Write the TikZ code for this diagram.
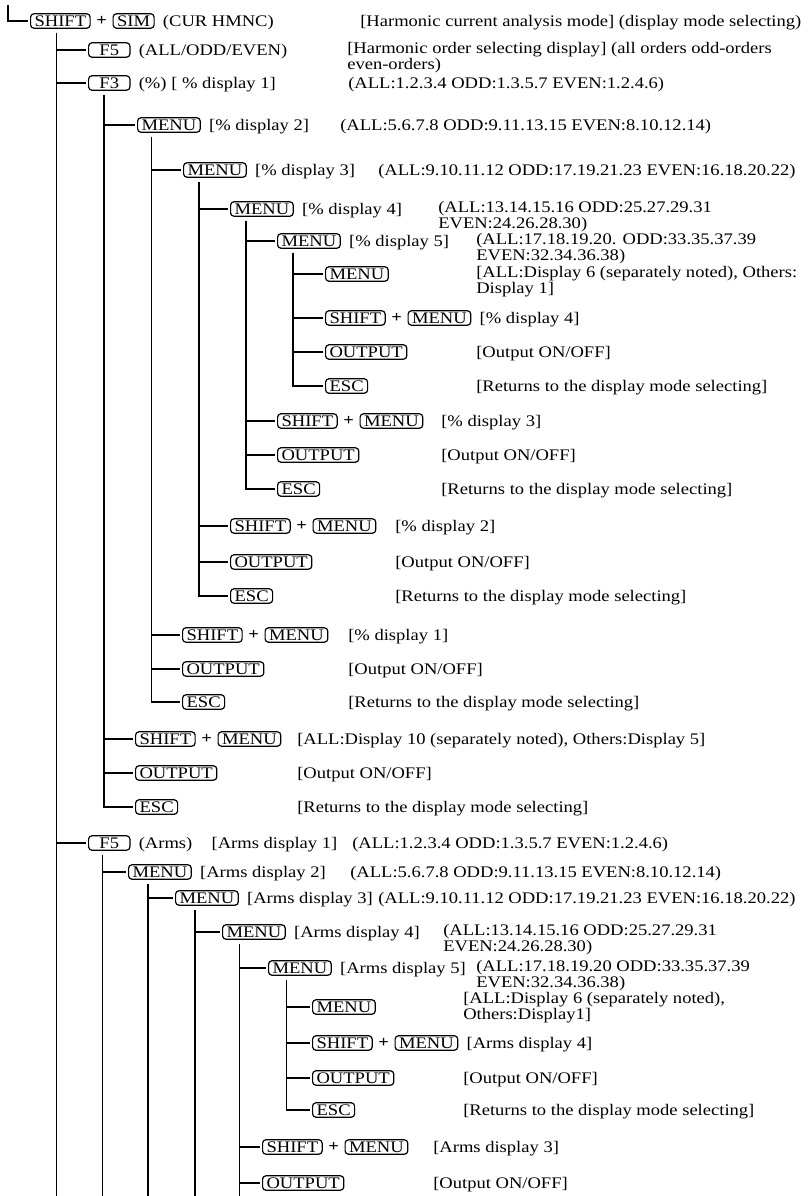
\documentclass[tikz,border=0pt]{standalone}
\usepackage{fontspec}
\setmainfont{Liberation Serif}[FakeStretch=1.15]
\usepackage{tikz}
\usetikzlibrary{positioning}

\begin{document}
\begin{tikzpicture}[x=0.75pt, y=-0.75pt, node distance=4pt,
  font=\fontsize{12.1pt}{10.5pt}\selectfont,
  key/.style={draw, rounded corners=2.5pt, line width=0.9pt, anchor=west, inner xsep=3pt, inner ysep=1.4pt, text height=8pt, text depth=0pt},
  fkey/.style={key, minimum width=31pt},
  plus/.style={inner sep=0pt, font=\fontsize{12.1pt}{10.5pt}\selectfont\bfseries},
  lbl/.style={inner sep=0pt},
  txt/.style={anchor=base west, inner sep=0pt, align=left},
  br/.style={line width=1.1pt},
  stub/.style={br, shorten >=1.5pt}]
  \useasboundingbox (0,0) rectangle (812,1196);
  \coordinate (bot) at (0,1196);
  \coordinate (t0) at (8,5);

  % root
  \node[key] (r1) at (30,21) {SHIFT};
  \node[plus, right=of r1] (r2) {+};
  \node[key, right=of r2] (r3) {SIM};
  \node[lbl, base right=6pt of r3] (r4) {(CUR HMNC)};
  \node[txt] (r5) at (360,26.5) {[Harmonic current analysis mode] (display mode selecting)};

  % first level (two-line texts sit on their last line)
  \node[fkey] (f5) at (88,50) {F5};
  \node[lbl, base right=6pt of f5] (f5t) {(ALL/ODD/EVEN)};
  \node[txt] (f5d) at (347,69.5) {[Harmonic order selecting display] (all orders odd-orders\\even-orders)};
  \node[fkey] (f3) at (88,83) {F3};
  \node[lbl, base right=6pt of f3] (f3t) {(\%) [ \% display 1]};
  \node[txt] (f3d) at (348,88.5) {(ALL:1.2.3.4 ODD:1.3.5.7 EVEN:1.2.4.6)};

  % % displays
  \node[key] (m2) at (137,125) {MENU};
  \node[lbl, base right=6pt of m2] (m2t) {[\% display 2]};
  \node[txt] (m2d) at (340,130.5) {(ALL:5.6.7.8 ODD:9.11.13.15 EVEN:8.10.12.14)};
  \node[key] (m3) at (183,170) {MENU};
  \node[lbl, base right=6pt of m3] (m3t) {[\% display 3]};
  \node[txt] (m3d) at (378,175.5) {(ALL:9.10.11.12 ODD:17.19.21.23 EVEN:16.18.20.22)};
  \node[key] (m4) at (230,209) {MENU};
  \node[lbl, base right=6pt of m4] (m4t) {[\% display 4]};
  \node[txt] (m4d) at (438,228.5) {(ALL:13.14.15.16 ODD:25.27.29.31\\EVEN:24.26.28.30)};
  \node[key] (m5) at (277,241) {MENU};
  \node[lbl, base right=6pt of m5] (m5t) {[\% display 5]};
  \node[txt] (m5d) at (476,260.5) {(ALL:17.18.19.20. ODD:33.35.37.39\\EVEN:32.34.36.38)};
  \node[key] (m6) at (325,274) {MENU};
  \node[txt] (m6d) at (476,293.5) {[ALL:Display 6 (separately noted), Others:\\Display 1]};

  \node[key] (s6a) at (325,318) {SHIFT};
  \node[plus, right=of s6a] (s6p) {+};
  \node[key, right=of s6p] (s6b) {MENU};
  \node[lbl, base right=6pt of s6b] (s6t) {[\% display 4]};
  \node[key] (o6) at (325,352) {OUTPUT};
  \node[txt] (o6t) at (476,357.5) {[Output ON/OFF]};
  \node[key] (e6) at (325,386) {ESC};
  \node[txt] (e6t) at (476,391.5) {[Returns to the display mode selecting]};

  \node[key] (s5a) at (277,421) {SHIFT};
  \node[plus, right=of s5a] (s5p) {+};
  \node[key, right=of s5p] (s5b) {MENU};
  \node[txt] (s5t) at (441,426.5) {[\% display 3]};
  \node[key] (o5) at (277,455) {OUTPUT};
  \node[txt] (o5t) at (441,460.5) {[Output ON/OFF]};
  \node[key] (e5) at (277,489) {ESC};
  \node[txt] (e5t) at (441,494.5) {[Returns to the display mode selecting]};

  \node[key] (s4a) at (230,526) {SHIFT};
  \node[plus, right=of s4a] (s4p) {+};
  \node[key, right=of s4p] (s4b) {MENU};
  \node[txt] (s4t) at (395,531.5) {[\% display 2]};
  \node[key] (o4) at (230,562) {OUTPUT};
  \node[txt] (o4t) at (395,567.5) {[Output ON/OFF]};
  \node[key] (e4) at (230,596) {ESC};
  \node[txt] (e4t) at (395,601.5) {[Returns to the display mode selecting]};

  \node[key] (s3a) at (182,635) {SHIFT};
  \node[plus, right=of s3a] (s3p) {+};
  \node[key, right=of s3p] (s3b) {MENU};
  \node[txt] (s3t) at (348,640.5) {[\% display 1]};
  \node[key] (o3) at (182,669) {OUTPUT};
  \node[txt] (o3t) at (348,674.5) {[Output ON/OFF]};
  \node[key] (e3) at (182,702) {ESC};
  \node[txt] (e3t) at (348,707.5) {[Returns to the display mode selecting]};

  \node[key] (s2a) at (135,739) {SHIFT};
  \node[plus, right=of s2a] (s2p) {+};
  \node[key, right=of s2p] (s2b) {MENU};
  \node[txt] (s2t) at (297,744.5) {[ALL:Display 10 (separately noted), Others:Display 5]};
  \node[key] (o2) at (135,773) {OUTPUT};
  \node[txt] (o2t) at (297,778.5) {[Output ON/OFF]};
  \node[key] (e2) at (135,807) {ESC};
  \node[txt] (e2t) at (297,812.5) {[Returns to the display mode selecting]};

  % Arms displays
  \node[fkey] (f5a) at (88,843) {F5};
  \node[lbl, base right=6pt of f5a] (f5at) {(Arms)};
  \node[lbl, base right=14pt of f5at] (f5ab) {[Arms display 1]};
  \node[txt] (f5ad) at (352,848.5) {(ALL:1.2.3.4 ODD:1.3.5.7 EVEN:1.2.4.6)};
  \node[key] (am2) at (128,872) {MENU};
  \node[lbl, base right=6pt of am2] (am2t) {[Arms display 2]};
  \node[txt] (am2d) at (350,877.5) {(ALL:5.6.7.8 ODD:9.11.13.15 EVEN:8.10.12.14)};
  \node[key] (am3) at (175,898) {MENU};
  \node[lbl, base right=6pt of am3] (am3t) {[Arms display 3]};
  \node[txt] (am3d) at (378,903.5) {(ALL:9.10.11.12 ODD:17.19.21.23 EVEN:16.18.20.22)};
  \node[key] (am4) at (222,932) {MENU};
  \node[lbl, base right=6pt of am4] (am4t) {[Arms display 4]};
  \node[txt] (am4d) at (443,951.5) {(ALL:13.14.15.16 ODD:25.27.29.31\\EVEN:24.26.28.30)};
  \node[key] (am5) at (268,968) {MENU};
  \node[lbl, base right=6pt of am5] (am5t) {[Arms display 5]};
  \node[txt] (am5d) at (476,987.5) {(ALL:17.18.19.20 ODD:33.35.37.39\\EVEN:32.34.36.38)};
  \node[key] (am6) at (312,1007) {MENU};
  \node[txt] (am6d) at (463,1019.5) {[ALL:Display 6 (separately noted),\\Others:Display1]};

  \node[key] (as6a) at (312,1043) {SHIFT};
  \node[plus, right=of as6a] (as6p) {+};
  \node[key, right=of as6p] (as6b) {MENU};
  \node[lbl, base right=6pt of as6b] (as6t) {[Arms display 4]};
  \node[key] (ao6) at (312,1078) {OUTPUT};
  \node[txt] (ao6t) at (463,1083.5) {[Output ON/OFF]};
  \node[key] (ae6) at (312,1110) {ESC};
  \node[txt] (ae6t) at (463,1115.5) {[Returns to the display mode selecting]};

  \node[key] (as5a) at (262,1147) {SHIFT};
  \node[plus, right=of as5a] (as5p) {+};
  \node[key, right=of as5p] (as5b) {MENU};
  \node[txt] (as5t) at (433,1152.5) {[Arms display 3]};
  \node[key] (ao5) at (262,1183) {OUTPUT};
  \node[txt] (ao5t) at (433,1188.5) {[Output ON/OFF]};

  % branch lines
  \coordinate (t1) at ([xshift=20pt,yshift=-3pt]r1.south west);
  \coordinate (t2) at ([xshift=12pt,yshift=-3pt]f3.south west);
  \coordinate (t3) at ([xshift=11pt,yshift=-3pt]m2.south west);
  \coordinate (t4) at ([xshift=12pt,yshift=-3pt]m3.south west);
  \coordinate (t5) at ([xshift=12pt,yshift=-3pt]m4.south west);
  \coordinate (t6) at ([xshift=12pt,yshift=-3pt]m5.south west);
  \coordinate (a1) at ([xshift=11pt,yshift=-3pt]f5a.south west);
  \coordinate (a2) at ([xshift=15pt,yshift=-3pt]am2.south west);
  \coordinate (a3) at ([xshift=15pt,yshift=-3pt]am3.south west);
  \coordinate (a4) at ([xshift=13pt,yshift=-3pt]am4.south west);
  \coordinate (a5) at ([xshift=14pt,yshift=-3pt]am5.south west);

  \draw[stub] (t0) |- (r1);
  \draw[br] (t1) -- (t1 |- bot);
  \draw[stub] (t1) |- (f5); \draw[stub] (t1) |- (f3); \draw[stub] (t1) |- (f5a);
  \draw[stub] (t2) |- (m2); \draw[stub] (t2) |- (s2a); \draw[stub] (t2) |- (o2); \draw[stub] (t2) |- (e2);
  \draw[stub] (t3) |- (m3); \draw[stub] (t3) |- (s3a); \draw[stub] (t3) |- (o3); \draw[stub] (t3) |- (e3);
  \draw[stub] (t4) |- (m4); \draw[stub] (t4) |- (s4a); \draw[stub] (t4) |- (o4); \draw[stub] (t4) |- (e4);
  \draw[stub] (t5) |- (m5); \draw[stub] (t5) |- (s5a); \draw[stub] (t5) |- (o5); \draw[stub] (t5) |- (e5);
  \draw[stub] (t6) |- (m6); \draw[stub] (t6) |- (s6a); \draw[stub] (t6) |- (o6); \draw[stub] (t6) |- (e6);
  \draw[br] (a1) -- (a1 |- bot); \draw[stub] (a1) |- (am2);
  \draw[br] (a2) -- (a2 |- bot); \draw[stub] (a2) |- (am3);
  \draw[br] (a3) -- (a3 |- bot); \draw[stub] (a3) |- (am4);
  \draw[br] (a4) -- (a4 |- bot); \draw[stub] (a4) |- (am5); \draw[stub] (a4) |- (as5a); \draw[stub] (a4) |- (ao5);
  \draw[stub] (a5) |- (am6); \draw[stub] (a5) |- (as6a); \draw[stub] (a5) |- (ao6); \draw[stub] (a5) |- (ae6);
\end{tikzpicture}
\end{document}
